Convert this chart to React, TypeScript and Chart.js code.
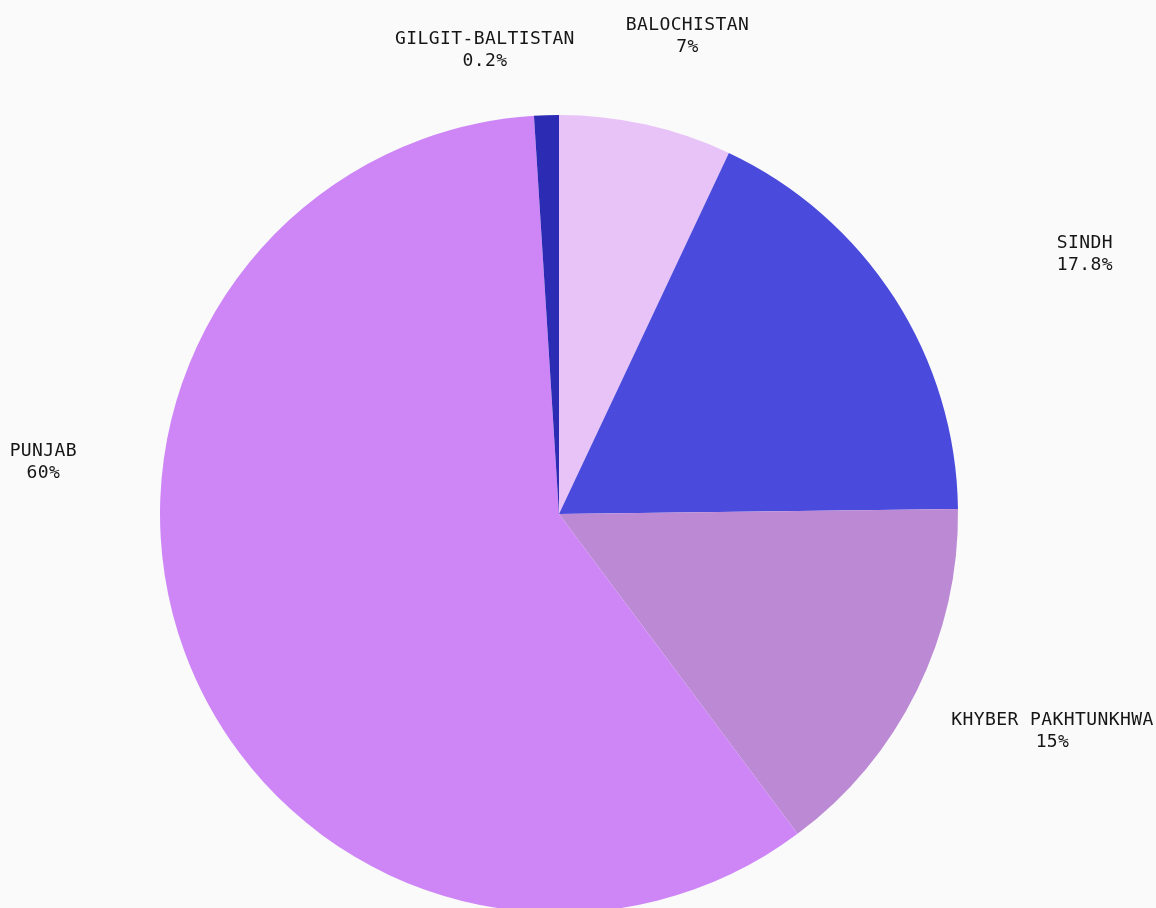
import React, { useEffect, useRef } from "react";
import { Chart, registerables } from "chart.js";

Chart.register(...registerables);

const regions = ["BALOCHISTAN", "SINDH", "KHYBER PAKHTUNKHWA", "PUNJAB", "GILGIT-BALTISTAN"];
const shares = [7, 17.8, 15, 59.2, 1];
const shareLabels = ["7%", "17.8%", "15%", "60%", "0.2%"];
const sliceColors = ["#e8c3f7", "#4a4adc", "#bc8ad4", "#ce86f7", "#2b2bb3"];
const labelNudges: [number, number][] = [
  [24, -10],
  [123, 0],
  [64, 5],
  [-66, -217],
  [-59, 15],
];

const labelPlugin = {
  id: "outerLabels",
  afterDraw(chart: any) {
    const ctx = chart.ctx;
    const meta = chart.getDatasetMeta(0);
    ctx.save();
    ctx.font = "18px 'DejaVu Sans Mono', monospace";
    (ctx as any).letterSpacing = "0.4px";
    ctx.fillStyle = "#161616";
    ctx.textAlign = "center";
    ctx.textBaseline = "middle";
    meta.data.forEach((arc: any, i: number) => {
      const p = arc.getProps(["x", "y", "startAngle", "endAngle", "outerRadius"], true);
      const mid = (p.startAngle + p.endAngle) / 2;
      const d = p.outerRadius + 80;
      const x = p.x + Math.cos(mid) * d + labelNudges[i][0];
      const y = p.y + Math.sin(mid) * d + labelNudges[i][1];
      ctx.fillText(regions[i], x, y - 11);
      ctx.fillText(shareLabels[i], x, y + 11);
    });
    ctx.restore();
  },
};

export default function App() {
  const ref = useRef<HTMLCanvasElement | null>(null);
  useEffect(() => {
    if (!ref.current) return;
    const chart = new Chart(ref.current, {
      type: "pie",
      data: {
        labels: regions,
        datasets: [
          {
            data: shares,
            backgroundColor: sliceColors,
            borderWidth: 0,
          },
        ],
      },
      options: {
        responsive: false,
        animation: false,
        layout: { padding: { left: 160, right: 198, top: 115, bottom: 17 } },
        plugins: {
          legend: { display: false },
          tooltip: { enabled: false },
        },
      },
      plugins: [labelPlugin],
    });
    return () => chart.destroy();
  }, []);
  return (
    <div
      style={{
        position: "absolute",
        left: 0,
        top: 0,
        width: 1156,
        height: 908,
        overflow: "hidden",
        background: "#fafafa",
      }}
    >
      <canvas ref={ref} width={1156} height={930} style={{ display: "block", width: 1156, height: 930 }} />
    </div>
  );
}
